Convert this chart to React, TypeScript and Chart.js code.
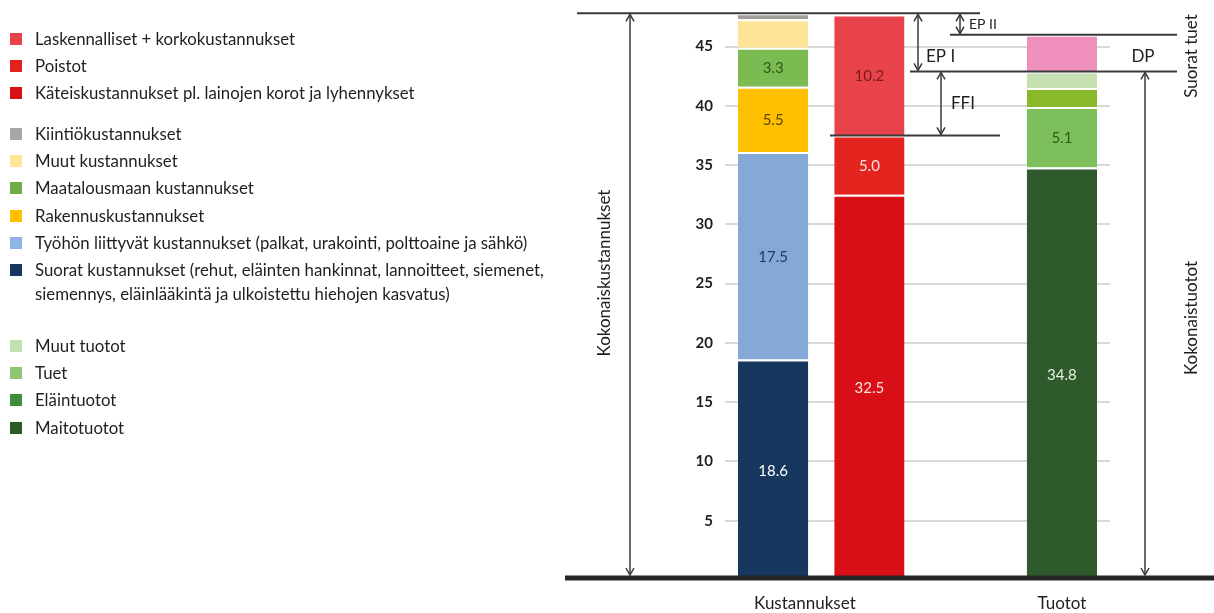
import React, { useEffect, useRef } from "react";
import { Chart, registerables } from "chart.js";

Chart.register(...registerables);

// Category slots on the x axis: two cost columns, an empty slot, and the income column
const categories = ["Kustannukset A", "Kustannukset B", "", "Tuotot"];
const groupLabels = ["Kustannukset", "Tuotot"];

// Cost breakdown column (bottom to top)
const costNames = [
  "Suorat kustannukset",
  "Työhön liittyvät kustannukset",
  "Rakennuskustannukset",
  "Maatalousmaan kustannukset",
  "Muut kustannukset",
  "Kiintiökustannukset",
];
const costValues = [18.6, 17.5, 5.5, 3.3, 2.4, 0.5];

// Cash / depreciation / imputed cost column (bottom to top)
const cashNames = [
  "Käteiskustannukset pl. lainojen korot ja lyhennykset",
  "Poistot",
  "Laskennalliset + korkokustannukset",
];
const cashValues = [32.5, 5.0, 10.2];

// Income column (bottom to top)
const incomeNames = ["Maitotuotot", "Tuet", "Eläintuotot", "Muut tuotot", "Suorat tuet"];
const incomeValues = [34.8, 5.1, 1.6, 1.4, 3.1];

// Y axis tick labels
const yTicks = [5, 10, 15, 20, 25, 30, 35, 40, 45];

// Styling
const costColors = ["#17375e", "#85a9d7", "#fec000", "#7cba52", "#fee497", "#a09e9a"];
const costLabelColors = ["#ffffff", "#1f3b60", "#5a4500", "#2d5a1a", null, null];
const cashColors = ["#d90f18", "#e3241f", "#e8434a"];
const cashLabelColors = ["#fbe1e1", "#fbe1e1", "#7a1a1e"];
const incomeColors = ["#2f5a2b", "#7dbf5b", "#8ab92c", "#c5dfb1", "#ef8fbb"];
const incomeLabelColors = ["#e6f0df", "#2d5a1a", null, null, null];

const legendGroups = [
  [
    { text: "Laskennalliset + korkokustannukset", color: "#e8424a" },
    { text: "Poistot", color: "#e3221f" },
    { text: "Käteiskustannukset pl. lainojen korot ja lyhennykset", color: "#d7111a" },
  ],
  [
    { text: "Kiintiökustannukset", color: "#a6a6a6" },
    { text: "Muut kustannukset", color: "#ffe699" },
    { text: "Maatalousmaan kustannukset", color: "#70ad47" },
    { text: "Rakennuskustannukset", color: "#ffc000" },
    { text: "Työhön liittyvät kustannukset (palkat, urakointi, polttoaine ja sähkö)", color: "#8eb4e3" },
    {
      text: "Suorat kustannukset (rehut, eläinten hankinnat, lannoitteet, siemenet,\nsiemennys, eläinlääkintä ja ulkoistettu hiehojen kasvatus)",
      color: "#17375e",
    },
  ],
  [
    { text: "Muut tuotot", color: "#c3e0ae" },
    { text: "Tuet", color: "#8dc673" },
    { text: "Eläintuotot", color: "#3f8d3b" },
    { text: "Maitotuotot", color: "#2e5b2a" },
  ],
];
const legendGroupTops = [25, 120, 332];

const FONT = "Lato, 'Open Sans', sans-serif";
const INK = "#1f1f1f";
const LINE = "#3a3a3a";

const sum = (a: number[]) => Math.round(a.reduce((s, v) => s + v, 0) * 10) / 10;

function makeDataset(name: string, value: number, slot: number, color: string, labelColor: string | null) {
  const data: (number | null)[] = categories.map(() => null);
  data[slot] = value;
  return {
    label: name,
    data,
    backgroundColor: color,
    borderColor: "#ffffff",
    borderWidth: { top: 2, left: 0, right: 0, bottom: 0 },
    borderSkipped: false,
    stack: "s",
    labelColor,
  };
}

const valueLabels = {
  id: "valueLabels",
  afterDatasetsDraw(chart: any) {
    const ctx = chart.ctx;
    ctx.save();
    ctx.font = `15px ${FONT}`;
    ctx.textAlign = "center";
    ctx.textBaseline = "middle";
    chart.data.datasets.forEach((ds: any, i: number) => {
      if (!ds.labelColor) return;
      const meta = chart.getDatasetMeta(i);
      meta.data.forEach((el: any, j: number) => {
        const v = ds.data[j];
        if (v == null) return;
        ctx.fillStyle = ds.labelColor;
        ctx.fillText(v.toFixed(1), el.x, (el.y + el.base) / 2 + 1);
      });
    });
    ctx.restore();
  },
};

function arrowHead(ctx: CanvasRenderingContext2D, x: number, y: number, dir: number) {
  ctx.beginPath();
  ctx.moveTo(x - 4, y + dir * 7);
  ctx.lineTo(x, y);
  ctx.lineTo(x + 4, y + dir * 7);
  ctx.stroke();
}

function doubleArrow(ctx: CanvasRenderingContext2D, x: number, y1: number, y2: number) {
  ctx.beginPath();
  ctx.moveTo(x, y1);
  ctx.lineTo(x, y2);
  ctx.stroke();
  arrowHead(ctx, x, y1, 1);
  arrowHead(ctx, x, y2, -1);
}

function hLine(ctx: CanvasRenderingContext2D, x1: number, x2: number, y: number) {
  ctx.beginPath();
  ctx.moveTo(x1, y);
  ctx.lineTo(x2, y);
  ctx.stroke();
}

function vText(ctx: CanvasRenderingContext2D, text: string, x: number, y: number) {
  ctx.save();
  ctx.translate(x, y);
  ctx.rotate(-Math.PI / 2);
  ctx.textAlign = "center";
  ctx.textBaseline = "middle";
  ctx.fillText(text, 0, 0);
  ctx.restore();
}

const annotations = {
  id: "annotations",
  afterDatasetsDraw(chart: any) {
    const ctx: CanvasRenderingContext2D = chart.ctx;
    const y = chart.scales.y;
    const x = chart.scales.x;
    const y0 = y.getPixelForValue(0);
    const yCost = y.getPixelForValue(sum(costValues));
    const yIncome = y.getPixelForValue(sum(incomeValues.slice(0, 4)));
    const yIncomeAll = y.getPixelForValue(sum(incomeValues));
    const yCash = y.getPixelForValue(sum(cashValues.slice(0, 2)));
    const baseY = y0 - 2;

    ctx.save();
    ctx.strokeStyle = LINE;
    ctx.lineWidth = 2;
    hLine(ctx, 577, 980, yCost);
    hLine(ctx, 950, 1177, yIncomeAll);
    hLine(ctx, 910, 1177, yIncome);
    hLine(ctx, 830, 1000, yCash);

    ctx.lineWidth = 1.5;
    doubleArrow(ctx, 630, yCost + 1, baseY - 3);
    doubleArrow(ctx, 918, yCost + 1, yIncome - 1);
    doubleArrow(ctx, 960, yCost + 1, yIncomeAll - 1);
    doubleArrow(ctx, 941, yIncome + 1, yCash - 1);
    doubleArrow(ctx, 1145, yIncome + 1, baseY - 3);

    // baseline
    ctx.strokeStyle = "#262626";
    ctx.lineWidth = 5;
    hLine(ctx, 565, 1214, baseY);

    ctx.fillStyle = INK;
    ctx.textBaseline = "middle";
    ctx.textAlign = "left";
    ctx.font = `17px ${FONT}`;
    ctx.fillText("EP I", 926, yIncome - 15);
    ctx.fillText("FFI", 951, (yIncome + yCash) / 2);
    ctx.font = `14px ${FONT}`;
    ctx.fillText("EP II", 969, (yCost + yIncomeAll) / 2);
    ctx.font = `17px ${FONT}`;
    ctx.textAlign = "center";
    ctx.fillText("DP", 1143, (yIncomeAll + yIncome) / 2 + 3);

    vText(ctx, "Kokonaiskustannukset", 605, 273);
    vText(ctx, "Kokonaistuotot", 1192, 318);
    vText(ctx, "Suorat tuet", 1192, 56);

    // category labels
    ctx.font = `17px ${FONT}`;
    ctx.textAlign = "center";
    ctx.fillText(groupLabels[0], x.getPixelForValue(0.33), 604);
    ctx.fillText(groupLabels[1], x.getPixelForValue(3), 604);
    ctx.restore();
  },
};

export default function App() {
  const ref = useRef<HTMLCanvasElement>(null);

  useEffect(() => {
    if (!ref.current) return;
    const datasets = [
      ...costNames.map((n, i) => makeDataset(n, costValues[i], 0, costColors[i], costLabelColors[i])),
      ...cashNames.map((n, i) => makeDataset(n, cashValues[i], 1, cashColors[i], cashLabelColors[i])),
      ...incomeNames.map((n, i) => makeDataset(n, incomeValues[i], 3, incomeColors[i], incomeLabelColors[i])),
    ];
    const chart = new Chart(ref.current, {
      type: "bar",
      data: { labels: categories, datasets: datasets as any },
      options: {
        responsive: false,
        animation: false,
        layout: { padding: { left: 680, right: 104, top: 11, bottom: 33 } },
        datasets: { bar: { barPercentage: 0.73, categoryPercentage: 1 } },
        plugins: { legend: { display: false }, tooltip: { enabled: false } },
        scales: {
          x: { stacked: true, display: false },
          y: {
            stacked: true,
            min: 0,
            max: 48,
            afterBuildTicks: (s: any) => {
              s.ticks = yTicks.map((v) => ({ value: v }));
            },
            afterFit: (s: any) => {
              s.width = 45;
              s.paddingTop = 0;
              s.paddingBottom = 0;
            },
            border: { display: false },
            grid: { color: "#d9d9d9", lineWidth: 2, drawTicks: false },
            ticks: {
              padding: 12,
              color: INK,
              font: { family: FONT, size: 15, weight: "bold" },
            },
          },
        },
      } as any,
      plugins: [valueLabels, annotations],
    });
    return () => chart.destroy();
  }, []);

  return (
    <div style={{ position: "absolute", left: 0, top: 0, width: 1214, height: 613, background: "#fff", fontFamily: FONT }}>
      <canvas ref={ref} width={1214} height={613} style={{ position: "absolute", left: 0, top: 0 }} />
      {legendGroups.map((group, gi) => (
        <div key={gi} style={{ position: "absolute", left: 10, top: legendGroupTops[gi] }}>
          {group.map((item) => (
            <div key={item.text} style={{ position: "relative", paddingLeft: 25, fontSize: 16.8, lineHeight: "27.2px", color: INK, whiteSpace: "pre" }}>
              <span style={{ position: "absolute", left: 0, top: 8, width: 12, height: 12, background: item.color }} />
              {item.text.split("\n").map((line, li) => (
                <div key={li} style={{ lineHeight: li === 0 ? "27.2px" : "22px" }}>{line}</div>
              ))}
            </div>
          ))}
        </div>
      ))}
    </div>
  );
}
